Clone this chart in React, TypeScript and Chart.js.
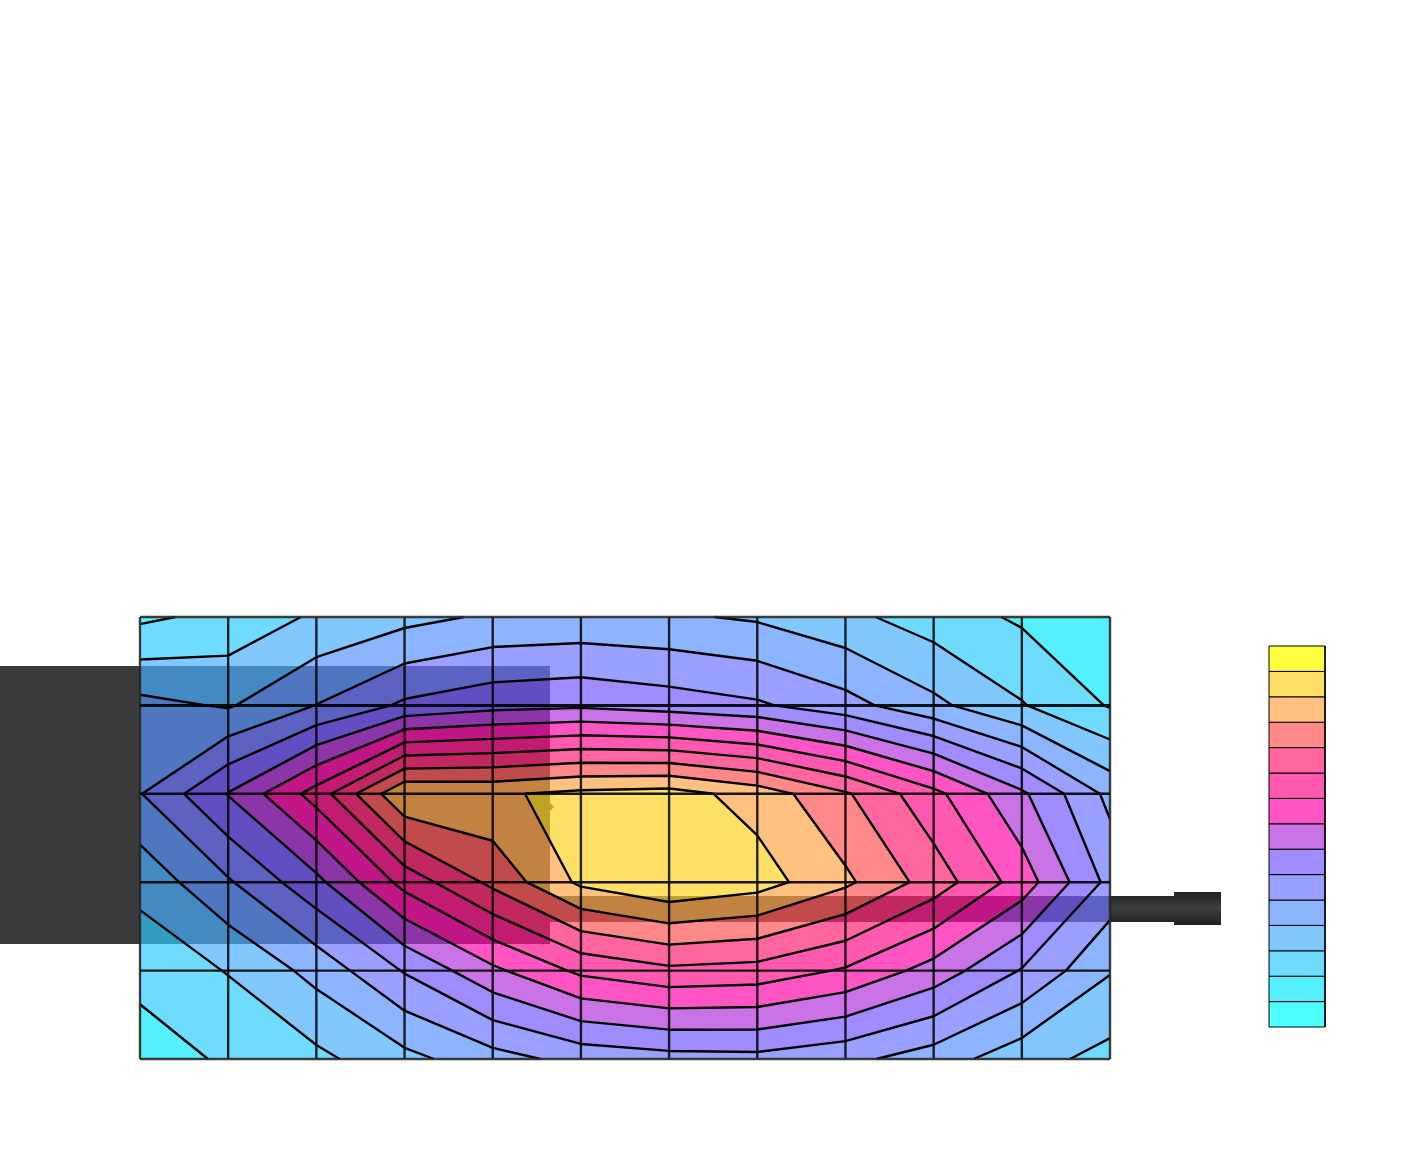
import React, { useEffect, useRef } from "react";
import { Chart, registerables } from "chart.js";

// Surface values at the mesh nodes.
const row0 = [1.8, 2.3, 3.15, 3.69, 4.15, 4.24, 4.14, 3.87, 3.26, 2.5, 1.85, 1.4];
const row1 = [4.3, 3.9, 5.02, 6.18, 6.65, 6.82, 6.5, 6.15, 5.37, 4.25, 3.07, 1.92];
const row2 = [4.95, 7.05, 9.42, 12.92, 12.85, 13.26, 13.41, 12.6, 11.13, 9.3, 7.18, 4.72];
const row3 = [3.3, 4.88, 6.72, 9.35, 11.25, 13.2, 13.93, 13.45, 12.2, 10.55, 8.54, 5.7];
const row4 = [2.35, 3.05, 4.33, 6.08, 7.78, 9.22, 9.78, 9.62, 8.88, 7.6, 5.93, 4.07];
const row5 = [1.43, 2.17, 2.75, 3.7, 4.6, 5.34, 5.62, 5.69, 5.27, 4.5, 3.4, 2.67];
const surface = [row0, row1, row2, row3, row4, row5];

// Colour key, lowest band first.
const bandColors = [
  "#4dffff", "#55f0ff", "#6fdcff", "#80c8ff", "#8cb4ff",
  "#99a0ff", "#a08cff", "#c973e6", "#ff55c4", "#ff5ab0",
  "#ff66a0", "#ff8888", "#ffc080", "#ffe066", "#ffff40",
];

const W = 1416;
const H = 1152;
const LEFT = 140;
const TOP = 617;
const CELL_W = 970 / 11;
const CELL_H = 442 / 5;
const toX = (px: number) => (px - LEFT) / CELL_W;
const toY = (px: number) => (px - TOP) / CELL_H;

type P = { x: number; y: number };
type V = { x: number; y: number; z: number };

const rect = (x0: number, y0: number, x1: number, y1: number): P[] => [
  { x: toX(x0), y: toY(y0) },
  { x: toX(x1), y: toY(y0) },
  { x: toX(x1), y: toY(y1) },
  { x: toX(x0), y: toY(y1) },
];

function cellCorners(i: number, j: number): V[] {
  return [
    { x: i, y: j, z: surface[j][i] },
    { x: i + 1, y: j, z: surface[j][i + 1] },
    { x: i + 1, y: j + 1, z: surface[j + 1][i + 1] },
    { x: i, y: j + 1, z: surface[j + 1][i] },
  ];
}

function crossing(a: V, b: V, level: number): P {
  const t = (level - a.z) / (b.z - a.z);
  return { x: a.x + (b.x - a.x) * t, y: a.y + (b.y - a.y) * t };
}

function regionAbove(c: V[], level: number): P[] {
  const out: P[] = [];
  c.forEach((a, n) => {
    const b = c[(n + 1) % 4];
    if (a.z >= level) out.push({ x: a.x, y: a.y });
    if (a.z >= level !== b.z >= level) out.push(crossing(a, b, level));
  });
  return out;
}

function isoline(level: number): P[] {
  const pts: P[] = [];
  for (let j = 0; j < surface.length - 1; j++) {
    for (let i = 0; i < row0.length - 1; i++) {
      const c = cellCorners(i, j);
      const hits: P[] = [];
      c.forEach((a, n) => {
        const b = c[(n + 1) % 4];
        if (a.z >= level !== b.z >= level) hits.push(crossing(a, b, level));
      });
      for (let h = 0; h + 1 < hits.length; h += 2) {
        pts.push(hits[h], hits[h + 1], { x: NaN, y: NaN });
      }
    }
  }
  return pts;
}

const blendPlugin = {
  id: "blendOverlay",
  beforeDatasetDraw(chart: any, args: any) {
    if (chart.data.datasets[args.index].blend) {
      chart.ctx.save();
      chart.ctx.globalCompositeOperation = "difference";
    }
  },
  afterDatasetDraw(chart: any, args: any) {
    if (chart.data.datasets[args.index].blend) chart.ctx.restore();
  },
};

// Registered first so that it runs ahead of the filler plugin.
Chart.register(blendPlugin, ...registerables);

export default function App() {
  const ref = useRef<HTMLCanvasElement>(null);
  useEffect(() => {
    const canvas = ref.current!;
    const ctx = canvas.getContext("2d")!;
    const datasets: any[] = [];
    const add = (data: P[], o: any) =>
      datasets.push({
        data,
        showLine: true,
        pointRadius: 0,
        borderWidth: 0,
        borderColor: "transparent",
        fill: false,
        ...o,
        order: 100000 - datasets.length,
      });
    const shape = (data: P[], color: any, o: any = {}) =>
      add(data, { fill: "shape", backgroundColor: color, ...o });

    // Bands, painted upward level by level inside every mesh cell.
    bandColors.forEach((color, level) => {
      for (let j = 0; j < surface.length - 1; j++) {
        for (let i = 0; i < row0.length - 1; i++) {
          const poly = regionAbove(cellCorners(i, j), level);
          if (poly.length > 2) shape(poly, color);
        }
      }
    });

    // The object seen behind the map.
    shape(rect(0, 666, 140, 944), "#3a3a3a");
    const cableGrad = ctx.createLinearGradient(0, 892, 0, 925);
    cableGrad.addColorStop(0, "#222222");
    cableGrad.addColorStop(0.5, "#3e3e3e");
    cableGrad.addColorStop(1, "#202020");
    shape(rect(1110, 896, 1174, 922), cableGrad);
    shape(rect(1174, 892, 1221, 925), cableGrad);
    const overlay = "rgb(62,62,62)";
    shape(rect(140, 666, 550, 944), overlay, { blend: true });
    shape(rect(550, 896, 1110, 922), overlay, { blend: true });
    shape(
      [
        { x: toX(550), y: toY(803) },
        { x: toX(554), y: toY(807) },
        { x: toX(550), y: toY(811) },
      ],
      overlay,
      { blend: true }
    );

    // Contour lines.
    for (let level = 1; level < bandColors.length; level++) {
      add(isoline(level), { borderColor: "#000", borderWidth: 2.4, borderJoinStyle: "round" });
    }

    // Mesh.
    const nx = row0.length - 1;
    const ny = surface.length - 1;
    for (let i = 0; i <= nx; i++) {
      add(
        [
          { x: i, y: 0 },
          { x: i, y: ny },
        ],
        { borderColor: i === 0 || i === nx ? "rgba(40,40,40,0.9)" : "rgba(0,0,0,0.85)", borderWidth: 2.4 }
      );
    }
    for (let j = 0; j <= ny; j++) {
      add(
        [
          { x: 0, y: j },
          { x: nx, y: j },
        ],
        { borderColor: j === 0 || j === ny ? "rgba(40,40,40,0.9)" : "rgba(0,0,0,0.9)", borderWidth: j === 1 ? 3 : 2.4 }
      );
    }

    // Colour key.
    const keyTop = 646;
    const keyBottom = 1027;
    const step = (keyBottom - keyTop) / bandColors.length;
    bandColors.forEach((color, n) => {
      const y1 = keyBottom - n * step;
      const box = rect(1269, y1 - step, 1325, y1);
      shape([...box, box[0]], color, { borderColor: "#000", borderWidth: 1 });
    });

    const chart = new Chart(canvas, {
      type: "scatter",
      data: { datasets },
      options: {
        animation: false,
        responsive: false,
        devicePixelRatio: 1,
        events: [],
        layout: { padding: 0 },
        plugins: { legend: { display: false }, tooltip: { enabled: false } },
        scales: {
          x: { display: false, type: "linear", min: toX(0), max: toX(W) },
          y: { display: false, type: "linear", reverse: true, min: toY(0), max: toY(H) },
        },
      },
    } as any);
    return () => chart.destroy();
  }, []);
  return (
    <div style={{ position: "absolute", left: 0, top: 0, width: W, height: H, background: "#fff" }}>
      <canvas ref={ref} width={W} height={H} style={{ display: "block" }} />
    </div>
  );
}
